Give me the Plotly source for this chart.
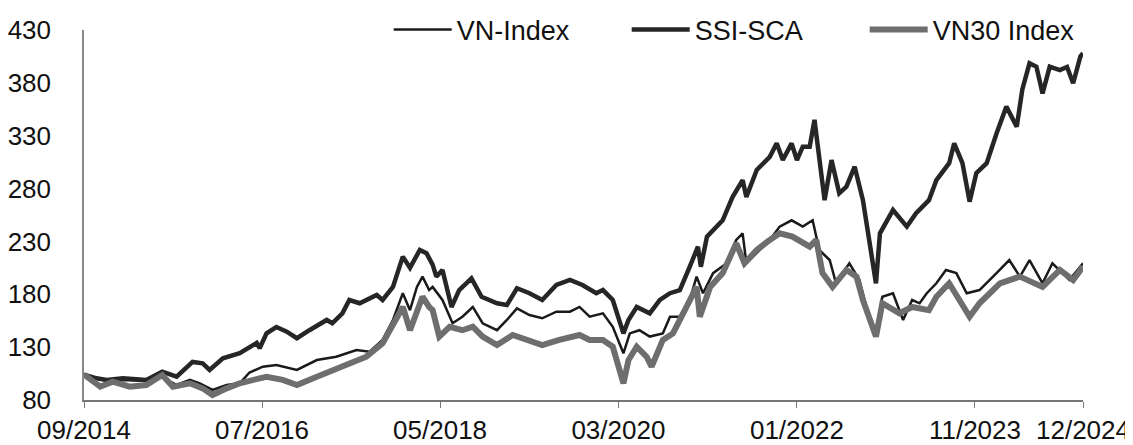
import plotly.graph_objects as go

# ---------------- data ----------------
ssi_dates = ["2014-09-01","2014-10-18","2014-11-25","2015-01-25","2015-04-23","2015-06-22","2015-08-15",
             "2015-10-14","2015-11-21","2015-12-17","2016-02-05","2016-04-08","2016-06-11","2016-06-22",
             "2016-07-18","2016-08-24","2016-10-02","2016-11-09","2016-12-26","2017-03-01","2017-03-22",
             "2017-04-29","2017-05-25","2017-07-03","2017-09-05","2017-09-27","2017-11-05","2017-12-12",
             "2018-01-08","2018-02-14","2018-03-11","2018-04-03","2018-04-17","2018-05-10","2018-06-13",
             "2018-07-12","2018-08-27","2018-10-04","2018-12-01","2019-01-07","2019-02-14","2019-04-02",
             "2019-05-20","2019-07-12","2019-09-01","2019-10-18","2019-12-09","2020-01-03","2020-02-09",
             "2020-03-20","2020-04-08","2020-05-09","2020-06-27","2020-08-04","2020-09-11","2020-10-18",
             "2020-11-24","2020-12-25","2021-01-05","2021-01-28","2021-03-28","2021-05-04","2021-06-11",
             "2021-06-25","2021-08-03","2021-09-21","2021-10-17","2021-11-09","2021-12-12","2022-01-01",
             "2022-01-23","2022-02-18","2022-03-08","2022-03-26","2022-04-15","2022-05-11","2022-06-09",
             "2022-07-06","2022-08-06","2022-09-06","2022-10-01","2022-10-25","2022-11-09","2022-12-28",
             "2023-02-18","2023-03-24","2023-05-12","2023-06-09","2023-07-27","2023-08-15","2023-09-15",
             "2023-10-12","2023-11-06","2023-12-15","2024-01-21","2024-02-27","2024-04-06","2024-04-27",
             "2024-05-24","2024-06-19","2024-07-12","2024-08-08","2024-09-15","2024-10-12","2024-11-04",
             "2024-12-01","2024-12-11"]
ssi_values = [104,100.5,99,100.5,99,106.8,102,
              116,114.7,108.4,119.4,124.2,134,129,
              143,149,144.6,138.4,146,155.7,152.6,
              162,174.6,171.5,179.3,174.6,187,215.6,
              205,222,218.8,208,196.7,203,168,
              184,195,177.7,171.5,169.9,185.7,181,
              174.6,188.8,193.5,188.8,181,184,174.6,
              143,155.7,168,162,174.6,181,184,
              206,225,206,234.5,250,272,288,
              272,297.6,310,322.8,307,322.8,307,
              319.6,319.6,345,307,269,307,275.5,
              281.8,300.7,269,231.4,190.4,237.7,259.7,
              244,256.5,269,288,304,322.8,304,
              267.6,294.5,304,332,357.5,338.5,373.8,
              398.5,395.3,370,395.3,392,395,379.6,
              404.8,408]

vn_dates = ["2014-09-01","2014-10-18","2014-11-25","2015-01-25","2015-04-23","2015-06-22","2015-07-08",
            "2015-08-15","2015-10-04","2015-11-10","2015-12-28","2016-02-19","2016-04-08","2016-05-15",
            "2016-06-22","2016-07-04","2016-08-24","2016-11-09","2017-01-23","2017-04-06","2017-06-21",
            "2017-08-09","2017-09-27","2017-11-05","2017-12-12","2018-01-08","2018-02-03","2018-02-24",
            "2018-03-21","2018-04-03","2018-05-10","2018-06-17","2018-07-24","2018-09-01","2018-10-08",
            "2018-12-01","2019-01-07","2019-02-14","2019-04-02","2019-05-20","2019-07-12","2019-09-01",
            "2019-10-07","2019-11-14","2020-01-03","2020-02-09","2020-03-20","2020-04-13","2020-05-19",
            "2020-06-27","2020-08-15","2020-09-11","2020-10-18","2020-11-24","2020-12-20","2021-01-13",
            "2021-02-20","2021-04-12","2021-05-18","2021-06-11","2021-06-25","2021-08-14","2021-09-21",
            "2021-10-28","2021-12-12","2022-01-23","2022-03-01","2022-03-26","2022-05-04","2022-05-28",
            "2022-07-17","2022-08-24","2022-10-01","2022-10-25","2022-11-18","2022-12-28","2023-02-04",
            "2023-03-10","2023-04-07","2023-05-04","2023-06-09","2023-07-15","2023-08-23","2023-10-01",
            "2023-11-18","2024-01-21","2024-03-09","2024-04-18","2024-05-24","2024-07-12","2024-08-18",
            "2024-10-21","2024-12-11"]
vn_values = [104,100.5,98,99,98,106,99,
             94.2,99,95.8,89.5,94.2,95.8,106,
             110,111.5,113,108.4,117.8,121,127.3,
             125.7,136.8,155.7,181,165,187,196.7,
             184,187,174.6,152.6,158.8,168,152.6,
             146,155.7,166.7,160.4,157.3,163.5,163.5,
             168,158.8,162,149.3,124.2,143,146,
             140,143,158.8,158.8,174.6,196.7,181,
             200,209.3,231.4,237.7,209.3,221.9,231.4,
             244,250,244,250,221.9,212.4,190.4,
             209.3,193.5,155.7,143,177.7,181,155.7,
             174.6,171.5,181,190.4,203,200,181,
             184,200,212.4,196.7,212.4,190.4,209.3,
             193.5,209.3]

vn30_dates = ["2014-09-01","2014-11-01","2014-12-18","2015-02-20","2015-04-23","2015-06-22","2015-08-01",
              "2015-10-04","2015-11-21","2015-12-28","2016-02-19","2016-04-08","2016-06-22","2016-07-18",
              "2016-09-17","2016-11-09","2017-01-23","2017-03-22","2017-05-25","2017-07-28","2017-09-27",
              "2017-11-05","2017-12-12","2018-01-08","2018-02-24","2018-03-21","2018-04-03","2018-04-28",
              "2018-06-06","2018-07-24","2018-09-01","2018-10-08","2018-12-01","2019-01-29","2019-03-21",
              "2019-05-20","2019-07-23","2019-10-07","2019-11-14","2020-01-03","2020-02-09","2020-03-20",
              "2020-04-08","2020-05-09","2020-06-15","2020-07-04","2020-08-15","2020-09-22","2020-11-12",
              "2020-12-20","2021-01-01","2021-02-09","2021-03-28","2021-05-18","2021-06-18","2021-08-03",
              "2021-09-21","2021-10-28","2021-12-15","2022-02-18","2022-03-15","2022-04-07","2022-05-15",
              "2022-07-06","2022-08-13","2022-09-06","2022-10-25","2022-11-18","2023-01-21","2023-03-10",
              "2023-05-12","2023-06-09","2023-07-27","2023-10-12","2023-11-18","2024-02-03","2024-04-18",
              "2024-07-12","2024-09-15","2024-11-04","2024-12-11"]
vn30_values = [104,92.6,97.3,92.6,94.2,103.6,92.6,
               95.8,91,84.7,91,95.8,100.5,102,
               99,94.2,102,108.4,114.7,121,133.6,
               152.6,168,146,177.7,168,165,140,
               149.3,146,149.3,140,132,141.5,136.8,
               132,136.8,141.5,136.8,136.8,130.4,95.8,
               117.8,130.4,121,111.5,136.8,143,168,
               187,158.8,187,200,228.2,209.3,222,
               231.4,237.7,234.5,225,231.4,200,187,
               203,196.7,174.6,140,171.5,162,168,
               165,177.7,190.4,158.8,171.5,190.4,196.7,
               187,203,193.5,206]

series_names = ["VN-Index", "SSI-SCA", "VN30 Index"]
y_ticks = [80, 130, 180, 230, 280, 330, 380, 430]
x_tickvals = ["2014-09-01", "2016-07-01", "2018-05-01", "2020-03-01", "2022-01-01", "2023-11-01", "2024-12-11"]
x_ticktext = ["09/2014", "07/2016", "05/2018", "03/2020", "01/2022", "11/2023", "12/2024"]

# ---------------- figure ----------------
fig = go.Figure()
fig.add_trace(go.Scatter(x=vn_dates, y=vn_values, mode="lines", name=series_names[0],
                         line=dict(color="#1a1a1a", width=2.5)))
fig.add_trace(go.Scatter(x=ssi_dates, y=ssi_values, mode="lines", name=series_names[1],
                         line=dict(color="#262626", width=4.5)))
fig.add_trace(go.Scatter(x=vn30_dates, y=vn30_values, mode="lines", name=series_names[2],
                         line=dict(color="#6e6e6e", width=6)))

tick_font = dict(family="Liberation Sans, Arial, sans-serif", size=26, color="#111")

# the page body adds an 8 px offset, so the figure is 8 px smaller than the window
fig.update_layout(
    width=1125, height=437,
    margin=dict(l=76, r=50, t=22, b=45, autoexpand=False),
    paper_bgcolor="white", plot_bgcolor="white",
    showlegend=True,
    legend=dict(orientation="h", x=0.305, xanchor="left", y=1.0, yanchor="middle",
                font=dict(family="Liberation Sans, Arial, sans-serif", size=27, color="#111"),
                bgcolor="rgba(0,0,0,0)", itemwidth=58, entrywidth=165, traceorder="normal"),
)
fig.update_xaxes(type="date", range=["2014-09-01", "2024-12-11"],
                 tickvals=x_tickvals, ticktext=x_ticktext, tickfont=tick_font,
                 showgrid=False, zeroline=False, showline=True, linecolor="#777", linewidth=1.5,
                 ticks="outside", ticklen=6, tickcolor="#777")
fig.update_yaxes(range=[80, 430], tickvals=y_ticks, tickfont=tick_font,
                 showgrid=False, zeroline=False, showline=True, linecolor="#888", linewidth=1.5,
                 ticks="", ticklabelstandoff=26)

fig.write_html("out.html")
